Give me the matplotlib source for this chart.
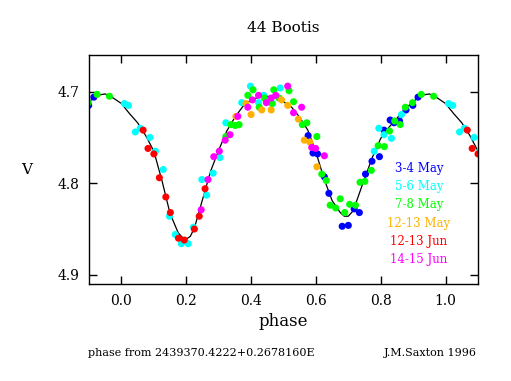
import matplotlib
matplotlib.use('Agg')
import matplotlib.pyplot as plt
import numpy as np

plt.rcParams['font.family'] = 'DejaVu Serif'

# observations, phase in [0,1), V magnitude
may34_ph = [0.576, 0.591, 0.605, 0.626, 0.640, 0.681, 0.700, 0.718, 0.734, 0.753,
            0.773, 0.796, 0.810, 0.829, 0.841, 0.858, 0.878, 0.899, 0.915]
may34_v = [4.748, 4.767, 4.768, 4.793, 4.811, 4.847, 4.846, 4.828, 4.832, 4.790,
           4.776, 4.771, 4.742, 4.731, 4.734, 4.732, 4.720, 4.715, 4.706]

may56_ph = [0.009, 0.022, 0.043, 0.058, 0.088, 0.105, 0.129, 0.148, 0.166, 0.185,
            0.206, 0.222, 0.248, 0.263, 0.283, 0.304, 0.322, 0.371, 0.398, 0.423,
            0.439, 0.466, 0.490, 0.780, 0.794, 0.810, 0.833, 0.864]
may56_v = [4.713, 4.715, 4.744, 4.740, 4.750, 4.765, 4.785, 4.836, 4.856, 4.866,
           4.866, 4.848, 4.796, 4.813, 4.789, 4.772, 4.734, 4.712, 4.694, 4.712,
           4.704, 4.713, 4.696, 4.765, 4.740, 4.747, 4.751, 4.725]

may78_ph = [0.322, 0.338, 0.351, 0.363, 0.390, 0.406, 0.425, 0.441, 0.464, 0.470,
            0.486, 0.517, 0.531, 0.558, 0.572, 0.603, 0.618, 0.632, 0.644, 0.661,
            0.675, 0.689, 0.704, 0.722, 0.736, 0.751, 0.771, 0.792, 0.811, 0.827,
            0.843, 0.860, 0.876, 0.898, 0.925, 0.963]
may78_v = [4.749, 4.736, 4.737, 4.736, 4.704, 4.698, 4.717, 4.707, 4.713, 4.698,
           4.707, 4.699, 4.711, 4.736, 4.734, 4.749, 4.790, 4.797, 4.824, 4.827,
           4.817, 4.832, 4.823, 4.824, 4.799, 4.798, 4.786, 4.759, 4.760, 4.743,
           4.732, 4.736, 4.717, 4.712, 4.703, 4.705]

may1213_ph = [0.353, 0.384, 0.400, 0.433, 0.462, 0.494, 0.513, 0.546, 0.564, 0.581, 0.603]
may1213_v = [4.727, 4.713, 4.725, 4.720, 4.720, 4.709, 4.715, 4.730, 4.753, 4.755, 4.782]

jun1213_ph = [0.067, 0.082, 0.100, 0.117, 0.137, 0.151, 0.176, 0.194, 0.225, 0.240, 0.258]
jun1213_v = [4.742, 4.762, 4.768, 4.794, 4.815, 4.832, 4.860, 4.862, 4.850, 4.836, 4.806]

jun1415_ph = [0.246, 0.267, 0.285, 0.302, 0.320, 0.335, 0.359, 0.390, 0.404, 0.423,
              0.447, 0.462, 0.476, 0.513, 0.531, 0.556, 0.587, 0.599, 0.626]
jun1415_v = [4.829, 4.796, 4.771, 4.765, 4.753, 4.747, 4.727, 4.717, 4.709, 4.704,
             4.712, 4.707, 4.704, 4.694, 4.723, 4.717, 4.761, 4.762, 4.770]

# fitted light curve, one cycle
curve_ph = [0.000, 0.025, 0.050, 0.075, 0.100, 0.125, 0.150, 0.175, 0.1875, 0.200,
            0.2125, 0.225, 0.250, 0.275, 0.300, 0.325, 0.350, 0.375, 0.400, 0.425,
            0.450, 0.475, 0.500, 0.525, 0.550, 0.575, 0.600, 0.625, 0.650, 0.675,
            0.6875, 0.700, 0.7125, 0.725, 0.750, 0.775, 0.800, 0.825, 0.850, 0.875,
            0.900, 0.925, 0.950, 0.975]
curve_v = [4.713, 4.724, 4.734, 4.748, 4.765, 4.797, 4.833, 4.854, 4.859, 4.861,
           4.858, 4.849, 4.818, 4.787, 4.764, 4.743, 4.728, 4.716, 4.709, 4.706,
           4.705, 4.707, 4.711, 4.717, 4.728, 4.742, 4.766, 4.795, 4.819, 4.832,
           4.836, 4.836, 4.831, 4.820, 4.795, 4.771, 4.751, 4.739, 4.729, 4.719,
           4.711, 4.704, 4.7025, 4.707]

sets = [
    ('3-4 May', may34_ph, may34_v, '#0000ff'),
    ('5-6 May', may56_ph, may56_v, '#00ffff'),
    ('7-8 May', may78_ph, may78_v, '#00ff00'),
    ('12-13 May', may1213_ph, may1213_v, '#ffb000'),
    ('12-13 Jun', jun1213_ph, jun1213_v, '#ff0000'),
    ('14-15 Jun', jun1415_ph, jun1415_v, '#ff00ff'),
]

fig = plt.figure(figsize=(5.11, 3.81), dpi=100)
ax = fig.add_axes([89/511, 1-284/381, 389/511, 229/381])

# curve repeated over -1..2 cycles, clipped by the axes
cph = np.array(curve_ph + [1.0])
cv = np.array(curve_v + [curve_v[0]])
xs = np.concatenate([cph - 1, cph[1:], cph[1:] + 1])
ys = np.concatenate([cv, cv[1:], cv[1:]])
ax.plot(xs, ys, color='black', lw=0.9, zorder=1)

for name, ph, v, col in sets:
    ph = np.array(ph)
    v = np.array(v)
    for shift in (-1, 0, 1):
        ax.scatter(ph + shift, v, s=26, color=col, edgecolors='none', zorder=2)

ax.set_xlim(-0.1, 1.1)
ax.set_ylim(4.91, 4.66)
ax.set_xticks([0.0, 0.2, 0.4, 0.6, 0.8, 1.0])
ax.set_xticklabels(['0.0', '0.2', '0.4', '0.6', '0.8', '1.0'])
ax.set_yticks([4.7, 4.8, 4.9])
ax.set_yticklabels(['4.7', '4.8', '4.9'])
ax.tick_params(direction='in', length=6, width=1, top=True, right=True,
               labelsize=10, pad=7)
for sp in ax.spines.values():
    sp.set_linewidth(1)

ax.set_xlabel('phase', fontsize=12, labelpad=4)
ax.set_ylabel('V', fontsize=11, rotation=0, labelpad=22, va='center')
fig.text(283/511, 1-28/381, '44 Bootis', ha='center', va='center', fontsize=11)

for i, (name, ph, v, col) in enumerate(sets):
    fig.text(419/511, 1-(168.3 + i*18.3)/381, name, color=col, ha='center',
             va='center', fontsize=8.5)

fig.text(88/511, 1-353/381, 'phase from 2439370.4222+0.2678160E', ha='left',
         va='center', fontsize=8)
fig.text(477/511, 1-353/381, 'J.M.Saxton 1996', ha='right', va='center', fontsize=8)

fig.savefig('out.png', dpi=100)
